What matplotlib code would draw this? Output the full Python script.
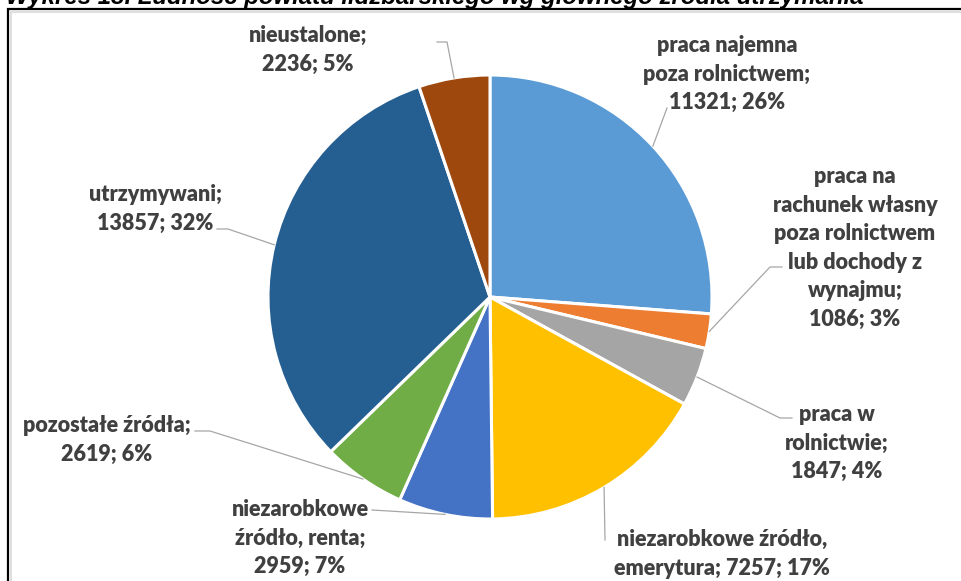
import numpy as np
import matplotlib.pyplot as plt
from matplotlib.lines import Line2D
from matplotlib.patches import Rectangle
from matplotlib.transforms import IdentityTransform

labels = ["praca najemna\npoza rolnictwem;\n11321; 26%",
          "praca na\nrachunek własny\npoza rolnictwem\nlub dochody z\nwynajmu;\n1086; 3%",
          "praca w\nrolnictwie;\n1847; 4%",
          "niezarobkowe źródło,\nemerytura; 7257; 17%",
          "niezarobkowe\nźródło, renta;\n2959; 7%",
          "pozostałe źródła;\n2619; 6%",
          "utrzymywani;\n13857; 32%",
          "nieustalone;\n2236; 5%"]
values = [11321, 1086, 1847, 7257, 2959, 2619, 13857, 2236]
colors = ["#5B9BD5", "#ED7D31", "#A5A5A5", "#FFC000",
          "#4472C4", "#70AD47", "#255E91", "#9E480E"]

# label centres and leader-line points, in image pixels (y from top)
label_pos = [(727, 74), (855, 248), (837, 443), (722, 554),
             (300, 538), (107, 440), (155, 209), (308, 50)]
leader_pts = [[(667, 108)],
              [(782, 267), (770, 267)],
              [(792, 418), (780, 418)],
              [(605, 540)],
              [(372, 510)],
              [(195, 431), (210, 431)],
              [(217, 229), (228, 229)],
              [(437, 42), (447, 42)]]

W, H = 962, 581
fig = plt.figure(figsize=(W / 100, H / 100), dpi=100)
fig.patch.set_facecolor("white")

cx, cy, r = 490, 297, 222
ax = fig.add_axes([(cx - r) / W, (H - cy - r) / H, 2 * r / W, 2 * r / H])
wedges, _ = ax.pie(values, colors=colors, startangle=90, counterclock=False,
                   radius=1, wedgeprops=dict(edgecolor="white", linewidth=2.2))
ax.set_xlim(-1, 1)
ax.set_ylim(-1, 1)
ax.set_aspect("equal")
ax.axis("off")

fig.canvas.draw()
for w, lab, (tx, ty), pts in zip(wedges, labels, label_pos, leader_pts):
    mid = np.deg2rad((w.theta1 + w.theta2) / 2)
    ax_pt = ax.transData.transform((np.cos(mid), np.sin(mid)))
    xs = [p[0] for p in pts] + [ax_pt[0]]
    ys = [H - p[1] for p in pts] + [ax_pt[1]]
    fig.add_artist(Line2D(xs, ys, transform=IdentityTransform(),
                          color="#A6A6A6", linewidth=0.9))
    fig.text(tx / W, 1 - ty / H, lab, ha="center", va="center",
             fontsize=15.5, fontweight="heavy", color="#404040",
             family="Lato", linespacing=1.45)

# chart frame
fig.add_artist(Rectangle((8 / W, -0.1), 1.2, 1 - 9 / H + 0.1,
                         transform=fig.transFigure, fill=False,
                         edgecolor="black", linewidth=1.6))
fig.add_artist(Rectangle((10.5 / W, -0.1), 1.2, 1 - 11.5 / H + 0.1,
                         transform=fig.transFigure, fill=False,
                         edgecolor="#D9D9D9", linewidth=1.2))

# title, mostly cut off above the image as in the source
fig.text(6 / W, 1 - 4 / H,
         "Wykres 13. Ludność powiatu lidzbarskiego wg głównego źródła utrzymania",
         ha="left", va="baseline", fontsize=17.3, fontweight="bold",
         fontstyle="italic", family="Liberation Sans", color="black")

fig.savefig("out.png", dpi=100, facecolor="white")
